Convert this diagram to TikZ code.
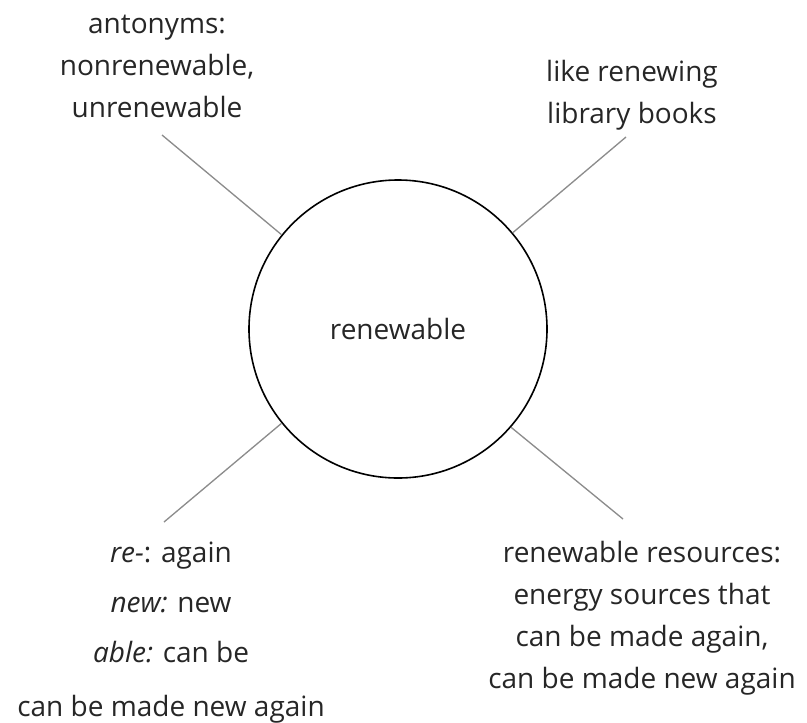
\documentclass[tikz,border=0pt]{standalone}
\usepackage{fontspec}
\setmainfont{Open Sans}
\begin{document}
\begin{tikzpicture}[x=0.75pt, y=-0.75pt, font=\fontsize{21}{31.5}\selectfont,
    spoke/.style={draw=black!45, line width=1pt},
    note/.style={align=center, inner sep=0pt, text=black!85}]
    \useasboundingbox (0,0) rectangle (807,722);

    \node[draw, circle, line width=1.2pt, minimum size=223.5pt, text=black!85] (word) at (398,329) {renewable};

    \node[note] (anto) at (157,66) {antonyms:\\nonrenewable,\\unrenewable};
    \node[note] (books) at (632,95) {like renewing\\library books};
    \node[note, font=\fontsize{21}{37.5}\selectfont] (parts) at (171,633)
        {\textit{re-}: again\\\textit{new:} new\\\textit{able:} can be\\[3pt]can be made new again};
    \node[note] (res) at (642,618) {renewable resources:\\energy sources that\\can be made again,\\can be made new again};

    \coordinate (antoEnd) at (162,135);
    \coordinate (booksEnd) at (626,137);
    \coordinate (partsEnd) at (164,522);
    \coordinate (resEnd) at (623,519);

    \draw[spoke] (word.141) -- (antoEnd);
    \draw[spoke] (word.40) -- (booksEnd);
    \draw[spoke] (word.219) -- (partsEnd);
    \draw[spoke] (word.319) -- (resEnd);
\end{tikzpicture}
\end{document}
